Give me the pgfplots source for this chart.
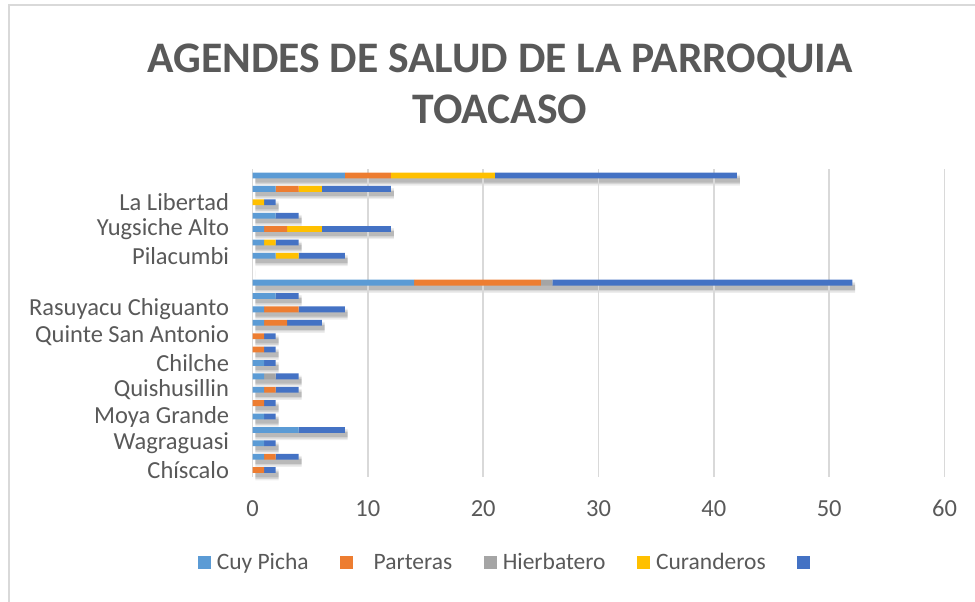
\documentclass[border=0pt]{standalone}
\usepackage{fontspec}
\setmainfont{Carlito}
\usepackage{pgfplots}
\usepackage{pgfplotstable}
\pgfplotsset{compat=1.18}

\definecolor{cCuy}{HTML}{5B9BD5}
\definecolor{cPar}{HTML}{ED7D31}
\definecolor{cHie}{HTML}{A5A5A5}
\definecolor{cCur}{HTML}{FFC000}
\definecolor{cTot}{HTML}{4472C4}
\definecolor{txt}{HTML}{595959}
\definecolor{gridc}{HTML}{D9D9D9}

% y = row from the bottom (1 = Chiscalo), one column per series
\pgfplotstableread{
y  cuy part hier cur tot
1  0   1    0    0   1
2  1   1    0    0   2
3  1   0    0    0   1
4  4   0    0    0   4
5  1   0    0    0   1
6  0   1    0    0   1
7  1   1    0    0   2
8  1   0    1    0   2
9  1   0    0    0   1
10 0   1    0    0   1
11 0   1    0    0   1
12 1   2    0    0   3
13 1   3    0    0   4
14 2   0    0    0   2
15 14  11   1    0   26
16 0   0    0    0   0
17 2   0    0    2   4
18 1   0    0    1   2
19 1   2    0    3   6
20 2   0    0    0   2
21 0   0    0    1   1
22 2   2    0    2   6
23 8   4    0    9   21
}\agentes

\pgfplotsset{
  plotbox/.style={anchor=south west, scale only axis,
    width=692pt, height=308pt, xmin=0, xmax=60, ymin=0.5, ymax=23.5},
}

\begin{document}
\begin{tikzpicture}[x=1pt,y=1pt]
\useasboundingbox (0,0) rectangle (975,602);
\draw[gridc, line width=2pt] (9,0) -- (9,597) -- (975,597);
\node[font=\bfseries\fontsize{43.6}{51}\selectfont, text=txt, align=center]
  at (500,518.5) {AGENDES DE SALUD DE LA PARROQUIA\\TOACASO};

% soft shadow under the bars
\begin{axis}[plotbox, at={(221.5,90)}, hide axis, xbar, bar shift=0pt]
\addplot[fill=black, draw=none, opacity=0.07, bar width=11pt]
  table[y=y, x expr=\thisrow{cuy}+\thisrow{part}+\thisrow{hier}+\thisrow{cur}+\thisrow{tot}] {\agentes};
\addplot[fill=black, draw=none, opacity=0.10, bar width=8pt]
  table[y=y, x expr=\thisrow{cuy}+\thisrow{part}+\thisrow{hier}+\thisrow{cur}+\thisrow{tot}] {\agentes};
\addplot[fill=black, draw=none, opacity=0.13, bar width=5pt]
  table[y=y, x expr=\thisrow{cuy}+\thisrow{part}+\thisrow{hier}+\thisrow{cur}+\thisrow{tot}] {\agentes};
\end{axis}

\begin{axis}[plotbox, at={(219,93.5)},
  xbar stacked, bar width=5.8pt,
  xtick={0,10,...,60}, ytick={1,3,...,23},
  yticklabels={Chíscalo, Wagraguasi, Moya Grande\hspace{5pt}, Quishusillin\hspace{5pt},
    Chilche, Quinte San Antonio\hspace{5pt}, Rasuyacu Chiguanto, {}, Pilacumbi,
    Yugsiche Alto, La Libertad, {}},
  xmajorgrids, grid style={gridc, line width=1.5pt},
  axis line style={draw=none}, major tick length=0pt,
  tick label style={font=\fontsize{24.5}{25}\selectfont, text=txt},
  /pgf/number format/assume math mode=true,
  xticklabel style={yshift=-20pt}, yticklabel style={xshift=-20pt},
  legend columns=5,
  legend style={draw=none, fill=none, at={(0.372,-0.282)}, anchor=center,
    font=\fontsize{23.5}{24}\selectfont, text=txt,
    cells={anchor=base west},
    nodes={inner xsep=6pt, text height=16pt, text depth=5pt},
    /tikz/every even column/.append style={column sep=25.5pt}},
  legend image code/.code={\fill[#1] (0pt,0.5pt) rectangle (13pt,13.5pt);},
]
\addplot[fill=cCuy, draw=none] table[y=y, x=cuy] {\agentes};
\addlegendentry{Cuy Picha}
\addplot[fill=cPar, draw=none] table[y=y, x=part] {\agentes};
\addlegendentry{\ \ \,Parteras}
\addplot[fill=cHie, draw=none] table[y=y, x=hier] {\agentes};
\addlegendentry{Hierbatero}
\addplot[fill=cCur, draw=none] table[y=y, x=cur] {\agentes};
\addlegendentry{Curanderos}
\addplot[fill=cTot, draw=none] table[y=y, x=tot] {\agentes};
\addlegendentry{}
\end{axis}
\end{tikzpicture}
\end{document}
